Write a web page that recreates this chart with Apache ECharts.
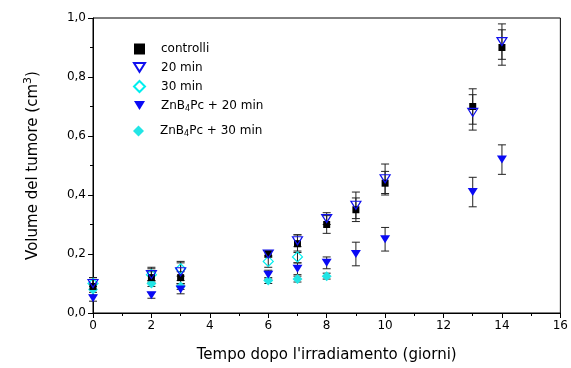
<!DOCTYPE html>
<html><head><meta charset="utf-8">
<script src="https://cdn.jsdelivr.net/npm/echarts@6/dist/echarts.min.js"></script>
<style>html,body{margin:0;padding:0;background:#fff}#c{width:571px;height:368px}</style>
</head><body><div id="c"></div>
<script>
const days = [0, 2, 3, 6, 7, 8, 9, 10, 13, 14];
const days30 = [0, 2, 3, 6, 7];
const controlli = [0.09, 0.12, 0.12, 0.20, 0.235, 0.30, 0.35, 0.44, 0.70, 0.90];
const controlliErr = [0.03, 0.02, 0.02, 0.01, 0.03, 0.03, 0.04, 0.04, 0.06, 0.06];
const min20 = [0.10, 0.13, 0.14, 0.20, 0.245, 0.32, 0.365, 0.455, 0.68, 0.92];
const min20Err = [0.02, 0.025, 0.03, 0.01, 0.02, 0.02, 0.045, 0.05, 0.06, 0.06];
const min30 = [0.10, 0.13, 0.15, 0.175, 0.19];
const min30Err = [0.02, 0.02, 0.025, 0.02, 0.02];
const zn20 = [0.05, 0.06, 0.08, 0.13, 0.15, 0.17, 0.20, 0.25, 0.41, 0.52];
const zn20Err = [0.01, 0.01, 0.015, 0.015, 0.02, 0.02, 0.04, 0.04, 0.05, 0.05];
const zn30 = [0.08, 0.10, 0.09, 0.11, 0.115, 0.125];
const zn30Err = [0.01, 0.01, 0.01, 0.01, 0.01, 0.01];

const names = ['controlli', '20 min', '30 min', 'ZnB4Pc + 20 min', 'ZnB4Pc + 30 min'];
const triDown = 'path://M0,0L10,0L5,8Z';
const diamond = 'path://M5,0L10,5L5,10L0,5Z';

function pts(xs, ys) { return ys.map((v, i) => [xs[i], v]); }
function errs(xs, ys, es) { return ys.map((v, i) => [xs[i], v - es[i], v + es[i]]); }

const allErr = [].concat(
  errs(days, controlli, controlliErr),
  errs(days, min20, min20Err),
  errs(days30, min30, min30Err),
  errs(days, zn20, zn20Err),
  errs(days, zn30, zn30Err)
);

const font = 'DejaVu Sans';
const legendText = {
  fontFamily: font, fontSize: 12, color: '#000', padding: [0, 0, 0, 11],
  rich: {
    a: { fontFamily: font, fontSize: 12, color: '#000', lineHeight: 14 },
    s: { fontFamily: font, fontSize: 8, color: '#000', verticalAlign: 'bottom', lineHeight: 8, padding: [5, 0, 0, 0] }
  }
};
function legendFmt(n) {
  if (n.indexOf('ZnB4Pc') === 0) return '{a|ZnB}{s|4}{a|Pc' + n.slice(6) + '}';
  return '{a|' + n + '}';
}

const chart = echarts.init(document.getElementById('c'));
chart.setOption({
  animation: false,
  textStyle: { fontFamily: font },
  grid: { left: 93, right: 3, top: 18, bottom: 54, show: true, borderColor: '#000', borderWidth: 1 },
  legend: [{
    orient: 'vertical', left: 128, top: 38, itemGap: 6.5, itemWidth: 11, itemHeight: 11,
    formatter: legendFmt, textStyle: legendText,
    data: [
      { name: names[0], icon: 'rect' },
      { name: names[1], icon: triDown },
      { name: names[2], icon: diamond },
      { name: names[3], icon: triDown }
    ]
  }, {
    orient: 'vertical', left: 128, top: 120, itemWidth: 11, itemHeight: 11,
    formatter: legendFmt, textStyle: legendText,
    data: [ { name: names[4], icon: diamond } ]
  }],
  xAxis: {
    type: 'value', min: 0, max: 16, interval: 2,
    name: "Tempo dopo l'irradiamento (giorni)", nameLocation: 'middle', nameGap: 35,
    nameTextStyle: { fontFamily: font, fontSize: 15, color: '#000' },
    axisLine: { lineStyle: { color: '#000' } },
    axisTick: { inside: false, length: 5, lineStyle: { color: '#000' } },
    minorTick: { show: true, splitNumber: 2, length: 3, lineStyle: { color: '#000' } },
    splitLine: { show: false },
    axisLabel: { fontFamily: font, fontSize: 12, color: '#000', margin: 7 }
  },
  yAxis: {
    type: 'value', min: 0, max: 1, interval: 0.2,
    name: '{a|Volume del tumore (cm}{s|3}{a|)}', nameLocation: 'middle', nameGap: 50,
    nameTextStyle: { rich: {
      a: { fontFamily: font, fontSize: 15, color: '#000' },
      s: { fontFamily: font, fontSize: 11, color: '#000', verticalAlign: 'bottom', padding: [0, 0, 9, 0] }
    } },
    axisLine: { lineStyle: { color: '#000' } },
    axisTick: { inside: false, length: 5, lineStyle: { color: '#000' } },
    minorTick: { show: true, splitNumber: 2, length: 3, lineStyle: { color: '#000' } },
    splitLine: { show: false },
    axisLabel: { fontFamily: font, fontSize: 12, color: '#000', margin: 7,
      formatter: v => v.toFixed(1).replace('.', ',') }
  },
  series: [
    {
      type: 'custom', name: 'err', z: 1, silent: true, clip: false,
      data: allErr,
      renderItem: function (params, api) {
        const x = api.value(0);
        const lo = api.coord([x, api.value(1)]);
        const hi = api.coord([x, api.value(2)]);
        const w = 4;
        const st = { stroke: '#222', lineWidth: 1 };
        return { type: 'group', children: [
          { type: 'line', shape: { x1: lo[0], y1: lo[1], x2: hi[0], y2: hi[1] }, style: st },
          { type: 'line', shape: { x1: lo[0] - w, y1: lo[1], x2: lo[0] + w, y2: lo[1] }, style: st },
          { type: 'line', shape: { x1: hi[0] - w, y1: hi[1], x2: hi[0] + w, y2: hi[1] }, style: st }
        ] };
      }
    },
    { type: 'scatter', name: names[4], clip: false, z: 2, symbol: diamond, symbolSize: 10,
      itemStyle: { color: '#22e5e5', opacity: 1 }, data: pts(days, zn30) },
    { type: 'scatter', name: names[3], clip: false, z: 3, symbol: triDown, symbolSize: [10, 8],
      itemStyle: { color: '#0a0af5', opacity: 1 }, data: pts(days, zn20) },
    { type: 'scatter', name: names[2], clip: false, z: 4, symbol: diamond, symbolSize: 10,
      itemStyle: { color: 'rgba(255,255,255,0)', borderColor: '#00eeee', borderWidth: 1.2, opacity: 1 }, data: pts(days30, min30) },
    { type: 'scatter', name: names[0], clip: false, z: 5, symbol: 'rect', symbolSize: 7,
      itemStyle: { color: '#000', opacity: 1 }, data: pts(days, controlli) },
    { type: 'scatter', name: names[1], clip: false, z: 6, symbol: triDown, symbolSize: [10, 8],
      itemStyle: { color: 'rgba(255,255,255,0)', borderColor: '#1010ee', borderWidth: 1.2, opacity: 1 }, data: pts(days, min20) }
  ]
});
</script></body></html>
